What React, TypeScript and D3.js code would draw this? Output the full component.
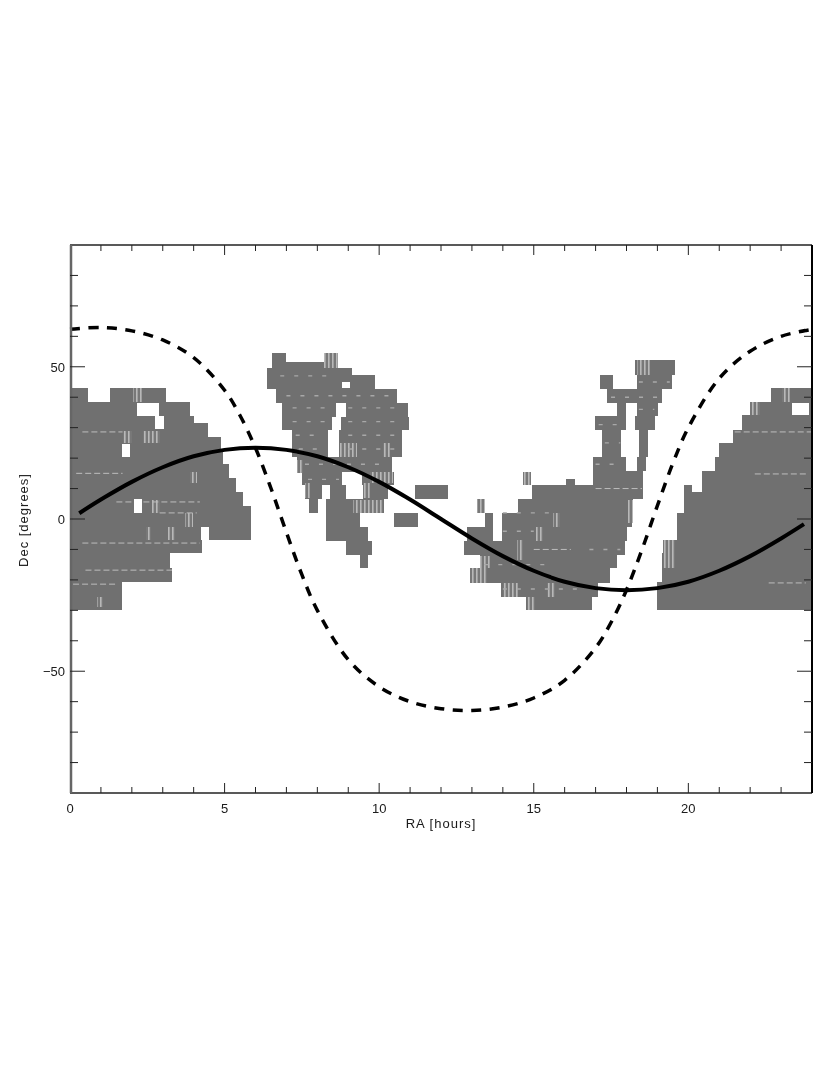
import React from "react";
import * as d3 from "d3";

type Strip = [number, number, number, number]; // decLow, decHigh, raLow, raHigh

const westStrips: Strip[] = [
  [-30, -25.3, 0, 1.68], [-25.3, -20.7, 0, 1.68], [-20.7, -16.1, 0, 3.3], [-16.1, -11.2, 0, 3.23],
  [-11.2, -7, 0, 4.27], [-7, -2.6, 0, 4.24], [-7, -2.6, 4.5, 5.85], [-2.6, 4.3, 0, 5.85],
  [4.3, 8.9, 0, 5.6], [8.9, 13.5, 0, 5.37], [13.5, 18.1, 0, 5.14], [18.1, 22.7, 0, 4.95],
  [22.7, 26.9, 0, 4.88], [26.9, 31.5, 0, 4.46], [31.5, 33.8, 0, 4.01], [33.8, 38.4, 0, 3.88],
  [38.4, 43, 0, 0.58], [38.4, 43, 1.29, 3.1],
];
const northStrips: Strip[] = [
  [51.5, 54.5, 6.53, 6.99], [51.5, 54.5, 8.21, 8.67], [49.6, 51.5, 6.53, 8.67], [47.3, 49.6, 6.37, 9.12],
  [42.7, 47.3, 6.37, 9.86], [38.1, 42.7, 6.66, 10.58], [33.5, 38.1, 6.86, 8.6], [33.5, 38.1, 8.93, 10.93],
  [29.2, 33.5, 6.86, 8.47], [29.2, 33.5, 8.76, 10.96], [20.4, 29.2, 7.18, 8.34], [20.4, 29.2, 8.7, 10.74],
  [15.4, 20.4, 7.34, 10.41], [11.2, 15.4, 7.5, 8.8], [11.2, 15.4, 9.44, 10.48], [6.6, 11.2, 7.6, 8.15],
  [6.6, 11.2, 8.41, 8.93], [6.6, 11.2, 9.48, 10.28], [2, 6.6, 7.73, 8.02], [2, 6.6, 8.28, 10.16],
  [-2.6, 2, 8.28, 9.38], [-7.2, -2.6, 8.28, 9.64], [-11.8, -7.2, 8.93, 9.77], [-16.1, -11.8, 9.38, 9.64],
  [6.6, 11.2, 11.16, 12.22], [-2.6, 2, 10.48, 11.25],
];
const southStrips: Strip[] = [
  [47.3, 52.2, 18.27, 19.57], [42.7, 47.3, 18.34, 19.47], [42.7, 47.3, 17.14, 17.56], [38.1, 42.7, 17.37, 19.15],
  [33.8, 38.1, 17.69, 17.98], [33.8, 38.1, 18.34, 19.02], [29.2, 33.8, 16.98, 17.98], [29.2, 33.8, 18.27, 18.92],
  [20.4, 29.2, 17.2, 17.82], [20.4, 29.2, 18.4, 18.69], [15.8, 20.4, 16.91, 17.98], [15.8, 20.4, 18.34, 18.63],
  [11.2, 15.8, 16.91, 18.53], [11.2, 13, 16.04, 16.33], [6.6, 11.2, 14.94, 18.53], [2, 6.6, 14.49, 18.21],
  [11.2, 15.4, 14.65, 14.91], [2, 6.6, 13.16, 13.42], [-2.6, 2, 13.42, 13.68], [-2.6, 2, 13.97, 18.18],
  [-7.2, -2.6, 12.84, 13.68], [-7.2, -2.6, 13.97, 18.01], [-11.8, -7.2, 12.74, 17.95], [-16.1, -11.8, 13.26, 17.69],
  [-21, -16.1, 12.94, 17.46], [-25.6, -21, 13.94, 17.08], [-30, -25.6, 14.75, 16.88],
];
const eastStrips: Strip[] = [
  [38.4, 43, 22.67, 24], [34.2, 38.4, 21.99, 24], [29.2, 34.2, 21.73, 24], [25, 29.2, 21.44, 24],
  [20.4, 25, 20.99, 24], [15.8, 20.4, 20.86, 24], [11.2, 15.8, 20.44, 24], [8.9, 11.2, 19.86, 20.12],
  [8.9, 11.2, 20.44, 24], [2, 8.9, 19.86, 24], [-7, 2, 19.63, 24], [-11.2, -7, 19.31, 24],
  [-20.7, -11.2, 19.15, 24], [-30, -20.7, 18.98, 24],
];
const coverageGaps: Strip[] = [
  [33.8, 38.1, 2.17, 2.88], [29.6, 33.8, 2.75, 3.04], [20.4, 24.6, 1.68, 1.94], [2, 6.6, 2.07, 2.33],
  [43, 45, 8.8, 9.06], [34.2, 38.1, 23.35, 23.9],
];
const stripedPatches: Strip[] = [
  [38.4, 43, 2.04, 2.33], [25, 29, 1.72, 2.0], [25, 29, 2.36, 2.91], [-7, -2.6, 2.46, 2.62], [-7, -2.6, 3.17, 3.4],
  [2, 6.2, 2.65, 2.91], [-2.6, 2, 3.72, 3.98], [11.8, 15.4, 3.88, 4.1], [-29, -25.6, 0.87, 1.07],
  [49.6, 54.5, 8.21, 8.67], [20.4, 25, 8.73, 9.28], [20.4, 25, 10.12, 10.35], [15, 19.4, 7.34, 7.54],
  [7, 11.8, 7.6, 7.76], [2, 6.2, 9.15, 10.12], [11.8, 15.4, 9.7, 10.45], [7, 11.8, 9.48, 9.7],
  [47.3, 52.2, 18.34, 18.76], [11.2, 15.4, 14.65, 14.91], [2, 6.6, 13.16, 13.42], [-2.6, 2, 15.62, 15.85],
  [-7.2, -2.6, 15.07, 15.3], [-13.5, -7, 14.46, 14.65], [-25.6, -21, 14, 14.5], [-25.6, -21, 15.43, 15.69],
  [-30, -25.6, 14.78, 15.04], [-1.3, 6.2, 18.05, 18.21], [-16, -12, 13.26, 13.58], [-21, -16, 12.94, 13.49],
  [34.2, 38.4, 21.99, 22.31], [38.4, 43, 23.03, 23.29], [-16, -7, 19.18, 19.57],
];
const lightRows: [number, number, number][] = [
  [28.6, 0.4, 1.7], [15, 0.2, 1.7], [5.6, 1.5, 4.2], [2, 2.9, 4.1], [-7.9, 0.4, 4.2], [-16.8, 0.5, 3.3], [-21.4, 0.1, 1.5],
  [28.6, 21.5, 24], [14.8, 22.15, 23.8], [-21, 22.6, 23.8], [10, 17, 18.5], [-10, 15, 16.2],
];
const dottedRows: [number, number, number][] = [
  [47, 6.8, 8.6], [40.5, 7, 10.4], [36.5, 7.2, 8.4], [36.5, 9, 10.8], [32, 7.2, 8.3], [32, 9, 10.8], [27.5, 7.3, 8.2],
  [27.5, 9, 10.6], [23, 7.4, 8.2], [23, 9, 10.6], [18, 7.6, 10.2], [13, 7.7, 8.7],
  [45, 18.4, 19.4], [36, 18.4, 18.9], [40, 17.5, 19], [25, 17.3, 17.8], [31, 17.1, 17.9], [18, 17, 17.9],
  [2, 14, 15.8], [-4, 14, 15], [-15, 13.4, 15.5], [-23, 14, 16.5], [-10, 16.8, 17.8],
];

const eclipticRa = [0.3, 1, 2, 3, 4, 5, 6, 7, 8, 9, 10, 11, 12, 13, 14, 15, 16, 17, 18, 19, 20, 21, 22, 23, 23.74];
const eclipticDec = [1.9, 6.4, 12.2, 17, 20.6, 22.7, 23.4, 22.7, 20.6, 17, 12.2, 6.4, 0, -6.4, -12.2, -17, -20.6, -22.7, -23.4, -22.7, -20.6, -17, -12.2, -6.4, -1.7];

const planeRa = [0, 1, 2, 3, 4, 5, 5.5, 6, 6.5, 7, 7.5, 8, 9, 10, 11, 12, 13, 14, 15, 16, 17, 17.5, 18, 18.5, 19, 19.5, 20, 21, 22, 23, 24];
const planeDec = [62.3, 62.9, 61.8, 58.8, 53, 42.3, 34, 23.3, 10.1, -4.4, -18.3, -30, -46.2, -55.1, -60, -62.3, -62.9, -61.8, -58.8, -53, -42.3, -34, -23.3, -10.1, 4.4, 18.3, 30, 46.2, 55.1, 60, 62.3];

const raTicks = d3.range(1, 24);
const raLabels = [0, 5, 10, 15, 20];
const decTicks = d3.range(-80, 81, 10);
const decLabels = [-50, 0, 50];

const FONT = "'Liberation Sans', Arial, sans-serif";
const L = 70, R = 812, T = 245, B = 793;

export default function App() {
  const x = d3.scaleLinear().domain([0, 24]).range([L, R]);
  const y = d3.scaleLinear().domain([-90, 90]).range([B, T]);
  const strips = [...westStrips, ...northStrips, ...southStrips, ...eastStrips];
  const rect = (s: Strip, fill: string, key: string) => (
    <rect key={key} x={x(s[2])} y={y(s[1])} width={x(s[3]) - x(s[2])} height={y(s[0]) - y(s[1])} fill={fill} shapeRendering="crispEdges" />
  );
  const line = d3.line<number>().x((d) => x(d)).curve(d3.curveCatmullRom.alpha(0.5));
  const ecl = line.y((_, i) => y(eclipticDec[i]))(eclipticRa) as string;
  const plane = line.y((_, i) => y(planeDec[i]))(planeRa) as string;
  return (
    <svg width={830} height={1075} style={{ position: "absolute", left: 0, top: 0, background: "#fff" }}>
      <defs>
        <filter id="soft" x="-2%" y="-2%" width="104%" height="104%">
          <feGaussianBlur stdDeviation="0.6" />
        </filter>
        <filter id="softer" x="-2%" y="-2%" width="104%" height="104%">
          <feGaussianBlur stdDeviation="0.35" />
        </filter>
        <pattern id="stripes" patternUnits="userSpaceOnUse" width={4} height={4}>
          <rect width={4} height={4} fill="#787878" />
          <rect width={1.6} height={4} fill="#b8b8b8" />
        </pattern>
      </defs>
      <g filter="url(#soft)">
        {strips.map((s, i) => rect(s, "#707070", `s${i}`))}
        {stripedPatches.map((s, i) => rect(s, "url(#stripes)", `p${i}`))}
        {lightRows.map((r, i) => (
          <line key={i} x1={x(r[1])} x2={x(r[2])} y1={y(r[0])} y2={y(r[0])} stroke="#bdbdbd" strokeWidth={1} strokeDasharray="6 3" />
        ))}
        {dottedRows.map((r, i) => (
          <line key={i} x1={x(r[1])} x2={x(r[2])} y1={y(r[0])} y2={y(r[0])} stroke="#a8a8a8" strokeWidth={1.4} strokeDasharray="4 10" />
        ))}
        {coverageGaps.map((s, i) => rect(s, "#fff", `g${i}`))}
      </g>
      <g filter="url(#softer)">
        <path d={plane} fill="none" stroke="#000" strokeWidth={3.5} strokeDasharray="10 8.5" />
        <path d={ecl} fill="none" stroke="#000" strokeWidth={4} />
        <g stroke="#222" fill="none">
          <line x1={L} x2={R} y1={T} y2={T} strokeWidth={1.5} />
          <line x1={L} x2={R} y1={B} y2={B} strokeWidth={1.5} />
          <line x1={L + 1} x2={L + 1} y1={T} y2={B} strokeWidth={2.5} stroke="#666" />
          <line x1={R} x2={R} y1={T} y2={B} strokeWidth={2} stroke="#000" />
          {raTicks.map((t) => {
            const len = t % 5 === 0 ? 10 : 6;
            return (
              <g key={t}>
                <line x1={x(t)} x2={x(t)} y1={B} y2={B - len} />
                <line x1={x(t)} x2={x(t)} y1={T} y2={T + len} />
              </g>
            );
          })}
          {decTicks.map((t) => {
            const len = t % 50 === 0 ? 15 : 8;
            return (
              <g key={t}>
                <line x1={L} x2={L + len} y1={y(t)} y2={y(t)} />
                <line x1={R} x2={R - len} y1={y(t)} y2={y(t)} />
              </g>
            );
          })}
        </g>
        <g fontFamily={FONT} fontSize={13} fill="#1a1a1a">
          {raLabels.map((t) => (
            <text key={t} x={x(t)} y={813} textAnchor="middle">{t}</text>
          ))}
          {decLabels.map((t) => (
            <text key={t} x={65} y={y(t) + 5} textAnchor="end">{t < 0 ? `\u2212${-t}` : t}</text>
          ))}
          <text x={441} y={828} textAnchor="middle" fontSize={13} letterSpacing={1}>RA [hours]</text>
          <text transform="translate(28,520) rotate(-90)" textAnchor="middle" fontSize={13} letterSpacing={1}>Dec [degrees]</text>
        </g>
      </g>
    </svg>
  );
}
